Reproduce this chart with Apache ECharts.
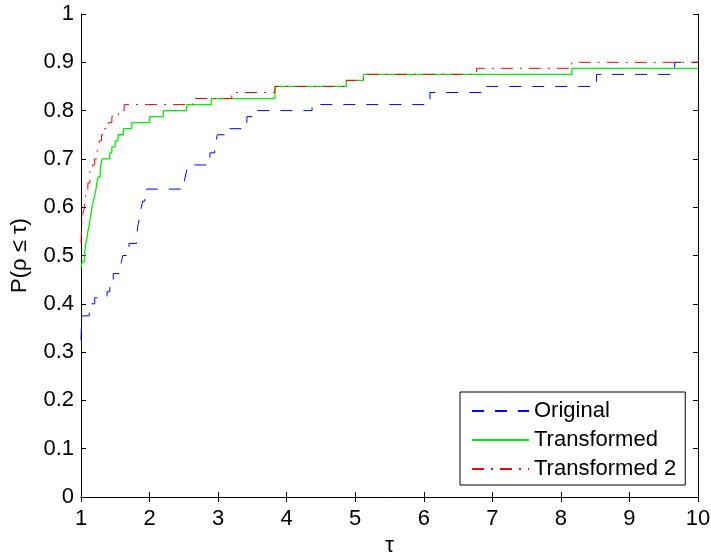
<!DOCTYPE html>
<html>
<head>
<meta charset="utf-8">
<script src="https://cdn.jsdelivr.net/npm/echarts@6/dist/echarts.min.js"></script>
<style>
  html, body { margin: 0; padding: 0; background: #fff; }
  #chart { width: 711px; height: 556px; }
</style>
</head>
<body>
<div id="chart"></div>
<script>
// Performance profiles: fraction of problems solved within a factor tau of the best.
// Each series is a right-continuous step function given by its breakpoints.
const originalTau = [1.00, 1.01, 1.12, 1.20, 1.38, 1.42, 1.47, 1.57, 1.59, 1.61, 1.70, 1.81, 1.82, 1.83, 1.85, 1.86, 1.88, 1.90, 1.93, 1.96,
  2.50, 2.52, 2.54, 2.56, 2.83, 2.88, 2.95, 2.97, 2.99, 3.16, 3.37, 3.42, 3.54, 4.37, 6.09, 6.86, 8.52, 9.66, 10.0];
const originalP = [0.325, 0.375, 0.4, 0.4125, 0.425, 0.4375, 0.4625, 0.475, 0.4875, 0.5, 0.525, 0.5375, 0.55, 0.5625, 0.575, 0.5875, 0.6, 0.6125, 0.625, 0.6375,
  0.65, 0.6625, 0.675, 0.6875, 0.7, 0.7125, 0.725, 0.7375, 0.75, 0.7625, 0.775, 0.7875, 0.8, 0.8125, 0.8375, 0.85, 0.875, 0.9, 0.9];

const transformedTau = [1.00, 1.02, 1.05, 1.06, 1.07, 1.09, 1.10, 1.12, 1.13, 1.15, 1.16, 1.18, 1.20, 1.22, 1.23, 1.25, 1.28, 1.29, 1.31,
  1.42, 1.45, 1.50, 1.54, 1.62, 1.74, 2.00, 2.20, 2.54, 2.90, 3.83, 4.87, 5.12, 8.16, 10.0];
const transformedP = [0.475, 0.4875, 0.5, 0.5125, 0.525, 0.5375, 0.55, 0.5625, 0.575, 0.5875, 0.6, 0.6125, 0.625, 0.6375, 0.65, 0.6625, 0.675, 0.6875, 0.7,
  0.7125, 0.725, 0.7375, 0.75, 0.7625, 0.775, 0.7875, 0.8, 0.8125, 0.825, 0.85, 0.8625, 0.875, 0.8875, 0.8875];

const transformed2Tau = [1.00, 1.01, 1.03, 1.05, 1.07, 1.10, 1.13, 1.17, 1.20, 1.23, 1.25, 1.27, 1.30, 1.33, 1.40, 1.45, 1.55, 1.63,
  2.63, 3.20, 3.83, 4.87, 5.12, 6.77, 8.16, 10.0];
const transformed2P = [0.525, 0.5625, 0.5875, 0.6, 0.625, 0.65, 0.675, 0.6875, 0.7, 0.7125, 0.725, 0.7375, 0.75, 0.7625, 0.775, 0.7875, 0.8, 0.8125,
  0.825, 0.8375, 0.85, 0.8625, 0.875, 0.8875, 0.9, 0.9];

const xTicks = [1, 2, 3, 4, 5, 6, 7, 8, 9, 10];
const seriesNames = ['Original', 'Transformed', 'Transformed 2'];

const pairs = (xs, ys) => xs.map((x, i) => [x, ys[i]]);
const FONT = 'Liberation Sans, Arial, Helvetica, sans-serif';

const chart = echarts.init(document.getElementById('chart'), null, { renderer: 'canvas' });

const baseAxisLine = { lineStyle: { color: '#000', width: 1 } };
const tickIn = { inside: true, length: 5, lineStyle: { color: '#000', width: 1 } };
const labelStyle = { color: '#000', fontFamily: FONT, fontSize: 22 };

chart.setOption({
  animation: false,
  backgroundColor: '#fff',
  grid: { left: 81, right: 13, top: 14, bottom: 59, containLabel: false, outerBoundsMode: 'none' },
  xAxis: [
    {
      type: 'value', min: xTicks[0], max: xTicks[xTicks.length - 1], interval: 1,
      position: 'bottom',
      axisLine: baseAxisLine, axisTick: tickIn,
      axisLabel: Object.assign({ margin: 11 }, labelStyle),
      splitLine: { show: false },
      name: 'τ', nameLocation: 'middle', nameGap: 34,
      nameTextStyle: { color: '#000', fontFamily: FONT, fontSize: 22 }
    },
    {
      type: 'value', min: xTicks[0], max: xTicks[xTicks.length - 1], interval: 1,
      position: 'top',
      axisLine: baseAxisLine, axisTick: tickIn,
      axisLabel: { show: false }, splitLine: { show: false }
    }
  ],
  yAxis: [
    {
      type: 'value', min: 0, max: 1, interval: 0.1,
      position: 'left',
      axisLine: baseAxisLine, axisTick: tickIn,
      axisLabel: Object.assign({ margin: 7 }, labelStyle),
      splitLine: { show: false },
      name: 'P(ρ ≤ τ)', nameLocation: 'middle', nameGap: 50,
      nameTextStyle: { color: '#000', fontFamily: FONT, fontSize: 22 }
    },
    {
      type: 'value', min: 0, max: 1, interval: 0.1,
      position: 'right',
      axisLine: baseAxisLine, axisTick: tickIn,
      axisLabel: { show: false }, splitLine: { show: false }
    }
  ],
  legend: {
    orient: 'vertical',
    left: 460, top: 392,
    padding: [8, 9, 5, 11],
    itemWidth: 57, itemHeight: 14, itemGap: 7,
    borderColor: '#000', borderWidth: 1,
    backgroundColor: '#fff',
    align: 'left',
    itemStyle: { opacity: 0 },
    textStyle: { color: '#000', fontFamily: FONT, fontSize: 22, lineHeight: 22 },
    data: seriesNames
  },
  series: [
    {
      name: seriesNames[0], type: 'line', step: 'end', symbol: 'none', showSymbol: false,
      data: pairs(originalTau, originalP),
      lineStyle: { color: '#0000ff', width: 1, type: [12, 11] },
      itemStyle: { color: '#0000ff' }
    },
    {
      name: seriesNames[1], type: 'line', step: 'end', symbol: 'none', showSymbol: false,
      data: pairs(transformedTau, transformedP),
      lineStyle: { color: '#00f000', width: 1.3, type: 'solid' },
      itemStyle: { color: '#00f000' }
    },
    {
      name: seriesNames[2], type: 'line', step: 'end', symbol: 'none', showSymbol: false,
      data: pairs(transformed2Tau, transformed2P),
      lineStyle: { color: '#ff0000', width: 1, type: [12, 7, 2, 7] },
      itemStyle: { color: '#ff0000' }
    }
  ]
});
</script>
</body>
</html>
